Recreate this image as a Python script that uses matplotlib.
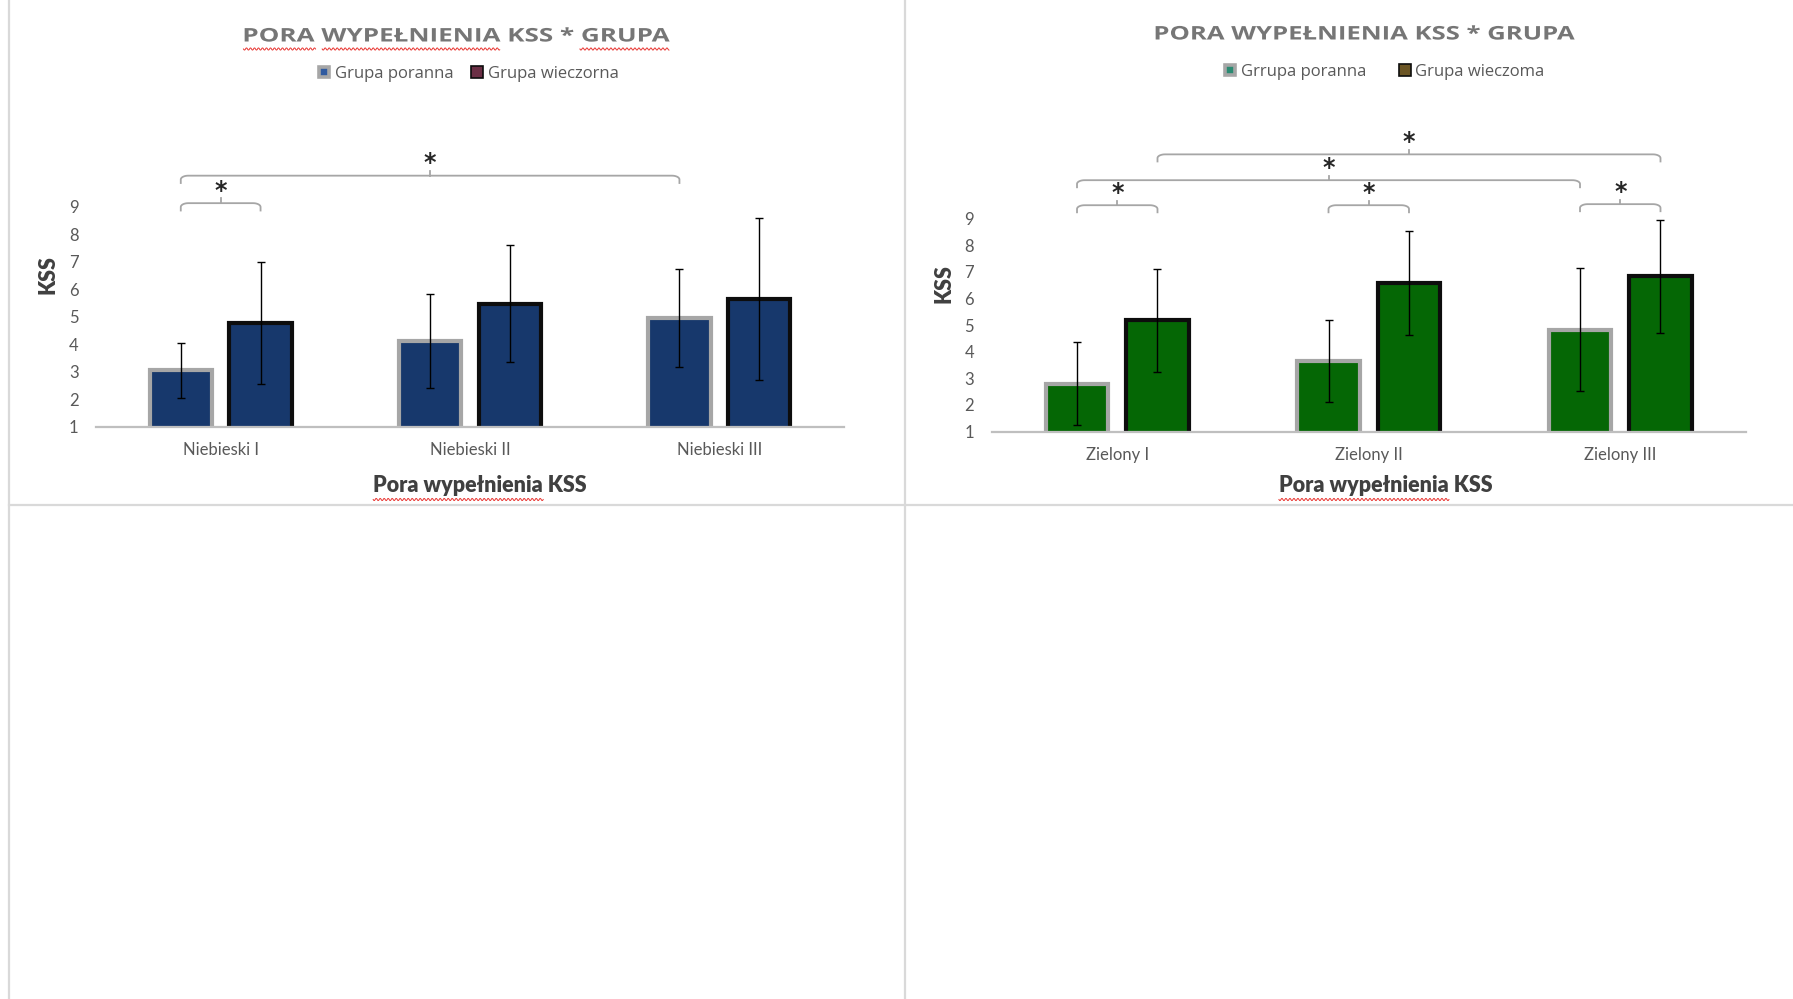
import numpy as np
import matplotlib
matplotlib.use("Agg")
import matplotlib.pyplot as plt
from matplotlib.lines import Line2D
from matplotlib.patheffects import AbstractPathEffect
from matplotlib.transforms import Affine2D

# ---------------- data ----------------
blue_categories = ["Niebieski I", "Niebieski II", "Niebieski III"]
blue_morning_mean = [3.05, 4.12, 4.96]
blue_morning_sd = [0.99, 1.71, 1.78]
blue_evening_mean = [4.78, 5.47, 5.65]
blue_evening_sd = [2.21, 2.13, 2.95]

green_categories = ["Zielony I", "Zielony II", "Zielony III"]
green_morning_mean = [2.80, 3.64, 4.83]
green_morning_sd = [1.55, 1.55, 2.31]
green_evening_mean = [5.17, 6.58, 6.83]
green_evening_sd = [1.93, 1.97, 2.12]

y_ticks = [1, 2, 3, 4, 5, 6, 7, 8, 9]

blue_series = ["Grupa poranna", "Grupa wieczorna"]
green_series = ["Grrupa poranna", "Grupa wieczoma"]

chart_title = "PORA WYPEŁNIENIA KSS * GRUPA"
x_title = "Pora wypełnienia KSS"
y_title = "KSS"

# significant differences: ((category, series), (category, series)), series 0 = morning, 1 = evening
blue_sig = [((0, 0), (0, 1)), ((0, 0), (2, 0))]
green_sig = [((0, 0), (0, 1)), ((1, 0), (1, 1)), ((2, 0), (2, 1)),
             ((0, 0), (2, 0)), ((0, 1), (2, 1))]

# ---------------- layout / style ----------------
W, H, DPI = 1793, 999, 100
OFF, BW = 0.16, 0.25
YMAX = 12.1
BLUE_BRACKET_Y = [9.13, 10.13]
GREEN_BRACKET_Y = [9.50, 9.50, 9.54, 10.44, 11.41]

fig = plt.figure(figsize=(W / DPI, H / DPI), dpi=DPI)
fig.patch.set_facecolor("white")


class HStretch(AbstractPathEffect):
    """Stretch a text path horizontally about its centre to a given pixel width."""

    def __init__(self, width_px):
        super().__init__()
        self.width_px = width_px

    def draw_path(self, renderer, gc, tpath, affine, rgbFace=None):
        ext = tpath.get_extents(affine)
        sx = self.width_px / max(ext.width, 1e-6)
        cx = 0.5 * (ext.x0 + ext.x1)
        aff = affine + Affine2D().translate(-cx, 0).scale(sx, 1).translate(cx, 0)
        renderer.draw_path(gc, tpath, aff, rgbFace)


def fx(x):
    return x / W


def fy(y):
    return 1 - y / H


def squiggle(x0, x1, y):
    xs = np.arange(x0, x1 + 0.5, 0.5)
    ys = y + 1.1 * np.sin(2 * np.pi * (xs - x0) / 4.0)
    fig.add_artist(Line2D(fx(xs), fy(ys), color="#e8332f", lw=0.7,
                          transform=fig.transFigure))


# table cell borders
for xb in (9, 905):
    fig.add_artist(Line2D([fx(xb)] * 2, [0, 1], color="#d9d9d9", lw=1.6,
                          transform=fig.transFigure))
fig.add_artist(Line2D([fx(9), 1], [fy(505)] * 2, color="#d9d9d9", lw=1.6,
                      transform=fig.transFigure))


def bracket(ax, x1, x2, y, drop=0.30, rx=0.03, ry=0.14, notch=0.17):
    t = np.linspace(0, np.pi / 2, 10)
    lx = x1 + rx * (1 - np.cos(t))
    ly = y - ry + ry * np.sin(t)
    rxs = (x2 - rx * (1 - np.cos(t)))[::-1]
    rys = ly[::-1]
    xs = np.concatenate([[x1], lx, rxs, [x2]])
    ys = np.concatenate([[y - drop], ly, rys, [y - drop]])
    ax.plot(xs, ys, color="#a6a6a6", lw=1.3, clip_on=False, zorder=4,
            solid_capstyle="butt")
    xm = 0.5 * (x1 + x2)
    ax.plot([xm, xm], [y, y + notch], color="#a6a6a6", lw=1.3, clip_on=False, zorder=4)
    ax.text(xm, y + 0.2, "*", ha="center", va="baseline", fontsize=17,
            fontweight="bold", fontfamily="DejaVu Sans", color="#262626",
            clip_on=False, zorder=5)


def draw_chart(box, cats, m_mean, m_sd, e_mean, e_sd, fill, sig, levels,
               xlabel_dx):
    left, top, right, bottom = box
    ax = fig.add_axes([fx(left), fy(bottom), (right - left) / W, (bottom - top) / H])
    ax.patch.set_alpha(0)
    x = np.arange(len(cats))
    xm, xe = x - OFF, x + OFF
    ax.bar(xm, m_mean, width=BW, color=fill, edgecolor="#a6a6a6", linewidth=3.0, zorder=2)
    ax.bar(xe, e_mean, width=BW, color=fill, edgecolor="#0d0d0d", linewidth=3.0, zorder=2)
    for xx, mm, ss in ((xm, m_mean, m_sd), (xe, e_mean, e_sd)):
        ax.errorbar(xx, mm, yerr=ss, fmt="none", ecolor="black", elinewidth=1.0,
                    capsize=3, capthick=1.0, zorder=3)

    ax.set_xlim(-0.5, len(cats) - 0.5)
    ax.set_ylim(1, YMAX)
    ax.set_yticks(y_ticks)
    ax.set_xticks(x, cats)
    for s in ("top", "left", "right"):
        ax.spines[s].set_visible(False)
    ax.spines["bottom"].set_color("#bfbfbf")
    ax.spines["bottom"].set_linewidth(1.6)
    ax.spines["bottom"].set_zorder(3)
    ax.tick_params(axis="y", length=0, pad=12.5, labelsize=12, labelcolor="#595959")
    ax.tick_params(axis="x", length=0, pad=11, labelsize=12, labelcolor="#595959")
    for lab in ax.get_xticklabels() + ax.get_yticklabels():
        lab.set_fontfamily("Lato")

    ax.set_ylabel(y_title, fontfamily="Lato", fontweight="heavy", fontsize=15.5,
                  color="#404040", va="center")
    ax.yaxis.set_label_coords(-48 / (right - left), 0.5)
    ax.set_xlabel(x_title, fontfamily="Lato", fontweight="heavy", fontsize=15.5,
                  color="#404040", va="center")
    ax.xaxis.set_label_coords(0.5 + xlabel_dx / (right - left),
                              -(486 - bottom) / (bottom - top))

    def pos(c, s):
        return c - OFF if s == 0 else c + OFF

    for ((c1, s1), (c2, s2)), lv in zip(sig, levels):
        bracket(ax, pos(c1, s1), pos(c2, s2), lv)
    return ax


ax_blue = draw_chart((96, 121.5, 844, 426.7), blue_categories,
                     blue_morning_mean, blue_morning_sd,
                     blue_evening_mean, blue_evening_sd,
                     "#17386c", blue_sig, BLUE_BRACKET_Y, xlabel_dx=10)
ax_green = draw_chart((991.5, 136, 1746, 431.5), green_categories,
                      green_morning_mean, green_morning_sd,
                      green_evening_mean, green_evening_sd,
                      "#056705", green_sig, GREEN_BRACKET_Y, xlabel_dx=17)

# titles
title_specs = [(456, 36.5, 425), (1364, 34.5, 419)]
titles = []
for cx, cy, tw in title_specs:
    t = fig.text(fx(cx), fy(cy), chart_title, ha="center", va="center",
                 fontfamily="Open Sans", fontweight="bold", fontsize=13.5,
                 color="#767676", path_effects=[HStretch(tw)])
    titles.append(t)

# legends
def legend(ax, labels, inner_m, outer_e, fill_e, cx, cy, colsp):
    handles = [
        Line2D([], [], ls="none", marker="s", markersize=6.5, markerfacecolor=inner_m,
               markeredgecolor="#a6a6a6", markeredgewidth=2.6),
        Line2D([], [], ls="none", marker="s", markersize=8.5, markerfacecolor=fill_e,
               markeredgecolor=outer_e, markeredgewidth=1.2),
    ]
    leg = ax.legend(handles, labels, loc="center", bbox_to_anchor=(fx(cx), fy(cy)),
                    bbox_transform=fig.transFigure, ncol=2, frameon=False,
                    handlelength=0.8, handletextpad=0.25, columnspacing=colsp,
                    borderaxespad=0, borderpad=0,
                    prop={"family": "Open Sans", "size": 12})
    for txt in leg.get_texts():
        txt.set_color("#595959")
    return leg


legend(ax_blue, blue_series, "#2f5aa0", "#0d0d0d", "#6b2f45", 468, 74, 1.0)
legend(ax_green, green_series, "#2b8a72", "#0d0d0d", "#6b5524", 1384, 72, 1.9)

# spell-check underlines
fig.canvas.draw()
renderer = fig.canvas.get_renderer()


def prefix_width(text_obj, s):
    w, _, _ = renderer.get_text_width_height_descent(s, text_obj.get_fontproperties(), ismath=False)
    return w


# left title: underline "PORA", "WYPEŁNIENIA", "GRUPA"
t = titles[0]
cx, cy, tw = title_specs[0]
full_w = prefix_width(t, chart_title)
for word in ("PORA", "WYPEŁNIENIA", "GRUPA"):
    i0 = chart_title.index(word)
    a = prefix_width(t, chart_title[:i0]) if i0 else 0.0
    b = prefix_width(t, chart_title[:i0 + len(word)])
    squiggle(cx - tw / 2 + tw * a / full_w, cx - tw / 2 + tw * b / full_w, 49)

# x titles: underline "Pora wypełnienia"
for ax in (ax_blue, ax_green):
    lab = ax.xaxis.label
    ext = lab.get_window_extent(renderer)
    x0 = ext.x0
    yb = H - ext.y0
    w_under = prefix_width(lab, "Pora wypełnienia")
    squiggle(x0, x0 + w_under, yb + 3)

fig.savefig("out.png", dpi=DPI, facecolor="white")
